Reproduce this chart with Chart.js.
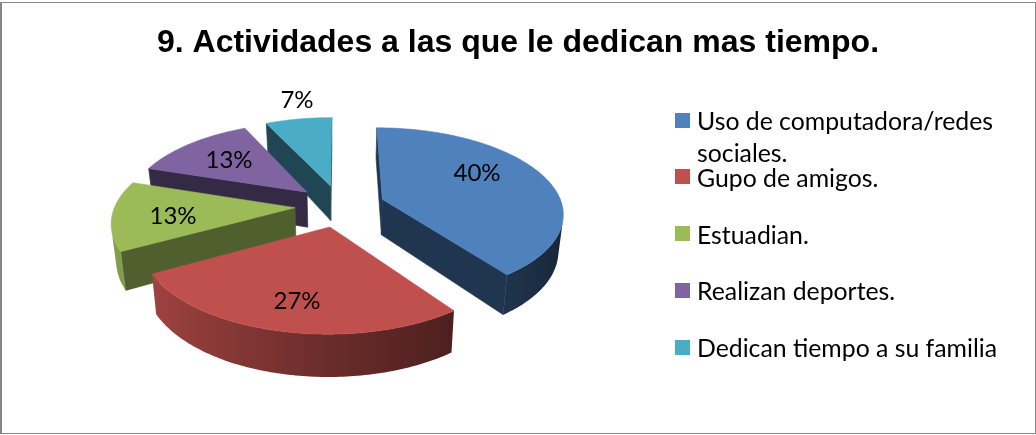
<!DOCTYPE html>
<html>
<head>
<meta charset="utf-8">
<style>
  html, body { margin: 0; padding: 0; background: #fff; }
  #wrap { position: relative; width: 1036px; height: 435px; overflow: hidden; }
  #frame { position: absolute; left: 0; top: 2px; width: 1033px; height: 430px; border: 1px solid #868686; border-left-width: 2px; }
  #legend { position: absolute; left: 0; top: 0; font-family: Lato, sans-serif; font-size: 24.8px; color: #000; }
  .swatch { position: absolute; left: 675px; width: 15px; height: 15px; }
  .name { position: absolute; left: 697px; width: 310px; line-height: 32px; }
</style>
</head>
<body>
<div id="wrap">
  <canvas id="pie3d" width="1036" height="435"></canvas>
  <div id="frame"></div>
  <div id="legend"></div>
</div>
<script src="https://cdn.jsdelivr.net/npm/chart.js@4"></script>
<script>
const chartTitle = '9. Actividades a las que le dedican mas tiempo.';
const categories = ['Uso de computadora/redes sociales.', 'Gupo de amigos.', 'Estuadian.', 'Realizan deportes.', 'Dedican tiempo a su familia'];
const percents = [40, 27, 13, 13, 7];

const topColors = ['#4F81BD', '#C0504D', '#9BBB59', '#8064A2', '#4BACC6'];
const wallColors = ['#1F3550', '#6A2C2A', '#4F5F2D', '#342A45', '#1F4652'];
const labelSpots = [[477, 173], [297, 301], [173, 216], [229, 160], [297, 100]];
const paintOrder = [4, 3, 2, 0, 1];

// ========== 3D view of the flat pie ==========
const view = { shiftX: -178, sx: 180, sy: 84, persp: 0.15, explode: 0.25, shrink: 0.978 };

function project(cx, cy, u, v, lower) {
  const w = 1 - view.persp * v;
  const k = lower ? view.shrink : 1;
  return [cx + view.shiftX + view.sx * u / w * k, cy + view.sy * v / w + (lower ? 36 + 5.5 * v : 0)];
}

function shade(hex, f) {
  const n = parseInt(hex.slice(1), 16);
  return `rgb(${Math.round((n >> 16) * f)},${Math.round(((n >> 8) & 255) * f)},${Math.round((n & 255) * f)})`;
}

function fillPoly(ctx, pts, color) {
  ctx.beginPath();
  pts.forEach((p, i) => i ? ctx.lineTo(p[0], p[1]) : ctx.moveTo(p[0], p[1]));
  ctx.closePath();
  ctx.fillStyle = color;
  ctx.strokeStyle = color;
  ctx.lineWidth = 0.6;
  ctx.fill();
  ctx.stroke();
}

function polyArea(pts) {
  let s = 0;
  pts.forEach((p, i) => {
    const q = pts[(i + 1) % pts.length];
    s += p[0] * q[1] - q[0] * p[1];
  });
  return s;
}

function drawSlice(ctx, arc, i) {
  const { x, y, startAngle, endAngle } = arc.getProps(['x', 'y', 'startAngle', 'endAngle'], true);
  const mid = (startAngle + endAngle) / 2;
  const ou = Math.cos(mid) * view.explode;
  const ov = Math.sin(mid) * view.explode;
  const steps = Math.ceil((endAngle - startAngle) / 0.017);
  const plane = [[ou, ov, null]];
  for (let s = 0; s <= steps; s++) {
    const a = startAngle + (endAngle - startAngle) * s / steps;
    plane.push([ou + Math.cos(a), ov + Math.sin(a), a]);
  }
  const topRing = plane.map(p => project(x, y, p[0], p[1], false));
  const lowRing = plane.map(p => project(x, y, p[0], p[1], true));

  // flat side walls first, then the curved wall as one shape with a sideways gradient
  const rimTop = [];
  const rimLow = [];
  const rimShade = [];
  for (let s = 0; s < plane.length; s++) {
    const t = (s + 1) % plane.length;
    const quad = [topRing[s], topRing[t], lowRing[t], lowRing[s]];
    if (polyArea(quad) >= 0) continue;
    if (plane[s][2] === null || plane[t][2] === null) {
      fillPoly(ctx, quad, wallColors[i]);
    } else {
      if (!rimTop.length) {
        rimTop.push(topRing[s]);
        rimLow.push(lowRing[s]);
      }
      rimTop.push(topRing[t]);
      rimLow.push(lowRing[t]);
      const sn = Math.cos((plane[s][2] + plane[t][2]) / 2);
      rimShade.push([topRing[s][0], sn < 0 ? 0.55 - 0.32 * sn : 0.55 - 0.26 * sn]);
    }
  }
  if (rimTop.length) {
    const xs = rimShade.map(r => r[0]);
    const x0 = Math.min(...xs);
    const x1 = Math.max(...xs) + 0.01;
    const grad = ctx.createLinearGradient(x0, 0, x1, 0);
    rimShade.forEach(r => grad.addColorStop((r[0] - x0) / (x1 - x0), shade(topColors[i], r[1])));
    ctx.beginPath();
    rimTop.concat(rimLow.slice().reverse()).forEach((p, k) => k ? ctx.lineTo(p[0], p[1]) : ctx.moveTo(p[0], p[1]));
    ctx.closePath();
    ctx.fillStyle = grad;
    ctx.fill();
  }
  fillPoly(ctx, topRing, topColors[i]);
}

const pie3dPlugin = {
  id: 'pie3d',
  beforeDatasetsDraw(chart) {
    const ctx = chart.ctx;
    const arcs = chart.getDatasetMeta(0).data;
    ctx.save();
    paintOrder.forEach(i => drawSlice(ctx, arcs[i], i));
    ctx.fillStyle = '#000';
    ctx.font = '24px Lato, sans-serif';
    ctx.textAlign = 'center';
    ctx.textBaseline = 'middle';
    percents.forEach((p, i) => ctx.fillText(p + '%', labelSpots[i][0], labelSpots[i][1]));
    ctx.restore();
    return false;
  }
};

new Chart(document.getElementById('pie3d'), {
  type: 'pie',
  data: {
    labels: categories,
    datasets: [{ data: percents, backgroundColor: topColors, borderWidth: 0 }]
  },
  options: {
    responsive: false,
    animation: false,
    layout: { padding: { top: 0, bottom: 93.6 } },
    plugins: {
      legend: { display: false },
      tooltip: { enabled: false },
      title: {
        display: true,
        text: chartTitle,
        color: '#000',
        font: { family: '"Liberation Sans", Arial, sans-serif', size: 32, weight: 'bold' },
        padding: { top: 24, bottom: 7.6 }
      }
    }
  },
  plugins: [pie3dPlugin]
});

// ========== Legend ==========
const legendBox = document.getElementById('legend');
categories.forEach((name, i) => {
  const mid = 120 + i * 56.75;
  const sw = document.createElement('div');
  sw.className = 'swatch';
  sw.style.top = (mid - 7.5) + 'px';
  sw.style.background = topColors[i];
  const tx = document.createElement('div');
  tx.className = 'name';
  tx.style.top = (mid - 15) + 'px';
  tx.textContent = name;
  legendBox.appendChild(sw);
  legendBox.appendChild(tx);
});
</script>
</body>
</html>
